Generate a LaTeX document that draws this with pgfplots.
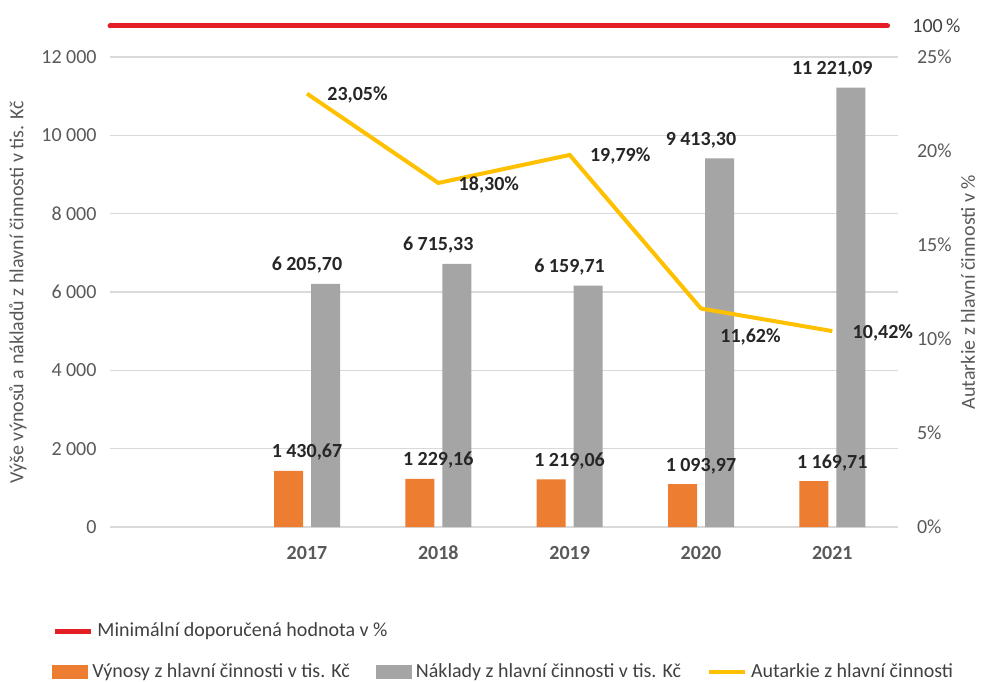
\documentclass[border=0pt]{standalone}
\usepackage{pgfplots}
\pgfplotsset{compat=1.18}
\usepackage{fontspec}
\setmainfont{Carlito}

\definecolor{vyn}{HTML}{ED7D31}
\definecolor{nak}{HTML}{A5A5A5}
\definecolor{aut}{HTML}{FFC000}
\definecolor{minr}{HTML}{E41E25}
\definecolor{mrizka}{HTML}{D9D9D9}
\definecolor{popis}{HTML}{595959}
\definecolor{legtext}{HTML}{404040}

\newcommand{\tis}{\kern0.22em}
\newcommand{\velikost}{\fontsize{10}{12}\selectfont}

\pgfplotsset{
  spolecne/.style={
    at={(55pt,77pt)}, anchor=south west,
    scale only axis, width=394pt, height=235pt,
    xmin=-0.5, xmax=5.5,
    major tick length=0pt,
    scaled y ticks=false,
    tick label style={font=\velikost, text=popis},
    label style={font=\velikost, text=popis},
  },
  sloupec/.style={legend image code/.code={\fill[##1] (0pt,-3.3pt) rectangle (18pt,3.3pt);}},
  cara/.style={legend image code/.code={\draw[##1, line cap=butt] (0pt,0pt) -- (18pt,0pt);}},
  legenda/.style={draw=none, fill=none, anchor=west, font=\velikost, text=legtext,
    inner sep=0pt, /tikz/every even column/.append style={column sep=11pt}},
}

\begin{document}
\begin{tikzpicture}
\path[use as bounding box] (0,0) rectangle (490.5pt,340.5pt);

% levá osa: výnosy a náklady
\begin{axis}[spolecne,
  ymin=0, ymax=12000,
  ytick={0,2000,...,12000},
  yticklabels={0,2\tis000,4\tis000,6\tis000,8\tis000,10\tis000,12\tis000},
  xtick={1,...,5}, xticklabels={2017,2018,2019,2020,2021},
  xticklabel style={font=\bfseries\velikost, yshift=-6pt},
  yticklabel style={xshift=-3.2pt},
  axis x line*=bottom, axis y line*=left,
  x axis line style={draw=mrizka, line width=0.75pt, -},
  y axis line style={draw=none},
  ymajorgrids, grid style={draw=mrizka, line width=0.75pt},
  ylabel={Výše výnosů a nákladů z hlavní činnosti v tis. Kč},
  ylabel style={at={(axis description cs:-0.1168,0.5)}, anchor=center},
  nodes near coords,
  every node near coord/.append style={font=\bfseries\velikost, text=black!85, inner sep=0pt, yshift=5pt},
  /pgf/number format/fixed, /pgf/number format/fixed zerofill,
  /pgf/number format/precision=2, /pgf/number format/use comma,
  /pgf/number format/1000 sep={\tis}, /pgf/number format/assume math mode=true,
  legend columns=3, legend cell align=left,
  legend style={legenda, at={(axis description cs:-0.0736,-0.3085)}},
]
\addplot[ybar, bar width=14.5pt, bar shift=-9.25pt, fill=vyn, draw=none, sloupec]
  coordinates {(1,1430.67) (2,1229.16) (3,1219.06) (4,1093.97) (5,1169.71)};
\addlegendentry{Výnosy z hlavní činnosti v tis. Kč}
\addplot[ybar, bar width=14.5pt, bar shift=9.25pt, fill=nak, draw=none, sloupec]
  coordinates {(1,6205.70) (2,6715.33) (3,6159.71) (4,9413.30) (5,11221.09)};
\addlegendentry{Náklady z hlavní činnosti v tis. Kč}
\addlegendimage{aut, line width=2pt, cara}
\addlegendentry{Autarkie z hlavní činnosti}
\end{axis}

% pravá osa: autarkie v %
\begin{axis}[spolecne,
  ymin=0, ymax=25, ytick={0,5,...,25},
  yticklabels={0\%,5\%,10\%,15\%,20\%,25\%},
  axis y line*=right, axis x line=none,
  y axis line style={draw=none},
  yticklabel style={xshift=6pt},
  ylabel={Autarkie z hlavní činnosti v \%},
  ylabel style={at={(axis description cs:1.0888,0.5)}, anchor=center},
  clip=false,
]
\addplot[aut, line width=2pt] coordinates {(1,23.05) (2,18.30) (3,19.79) (4,11.62) (5,10.42)};
\begin{scope}[every node/.style={font=\bfseries\velikost, text=black!85, anchor=west, inner sep=0pt}]
\node[xshift=10pt, yshift=-0.5pt] at (axis cs:1,23.05) {23,05\%};
\node[xshift=10pt, yshift=-1pt] at (axis cs:2,18.30) {18,30\%};
\node[xshift=10pt, yshift=-0.5pt] at (axis cs:3,19.79) {19,79\%};
\node[xshift=9.5pt, yshift=-14pt] at (axis cs:4,11.62) {11,62\%};
\node[xshift=10pt, yshift=-1pt] at (axis cs:5,10.42) {10,42\%};
\end{scope}
\end{axis}

% minimální doporučená hodnota 100 %
\begin{axis}[spolecne, height=250.5pt,
  ymin=0, ymax=100, ytick={100}, yticklabels={100\,\%},
  axis y line*=right, axis x line=none,
  y axis line style={draw=none},
  yticklabel style={xshift=3.7pt, text=legtext},
  clip=false,
  legend style={legenda, at={(axis description cs:-0.0736,-0.2076)}},
]
\addplot[minr, line width=2.5pt, line cap=round, cara] coordinates {(-0.5,100) (5.42,100)};
\addlegendentry{Minimální doporučená hodnota v \%}
\end{axis}
\end{tikzpicture}
\end{document}
